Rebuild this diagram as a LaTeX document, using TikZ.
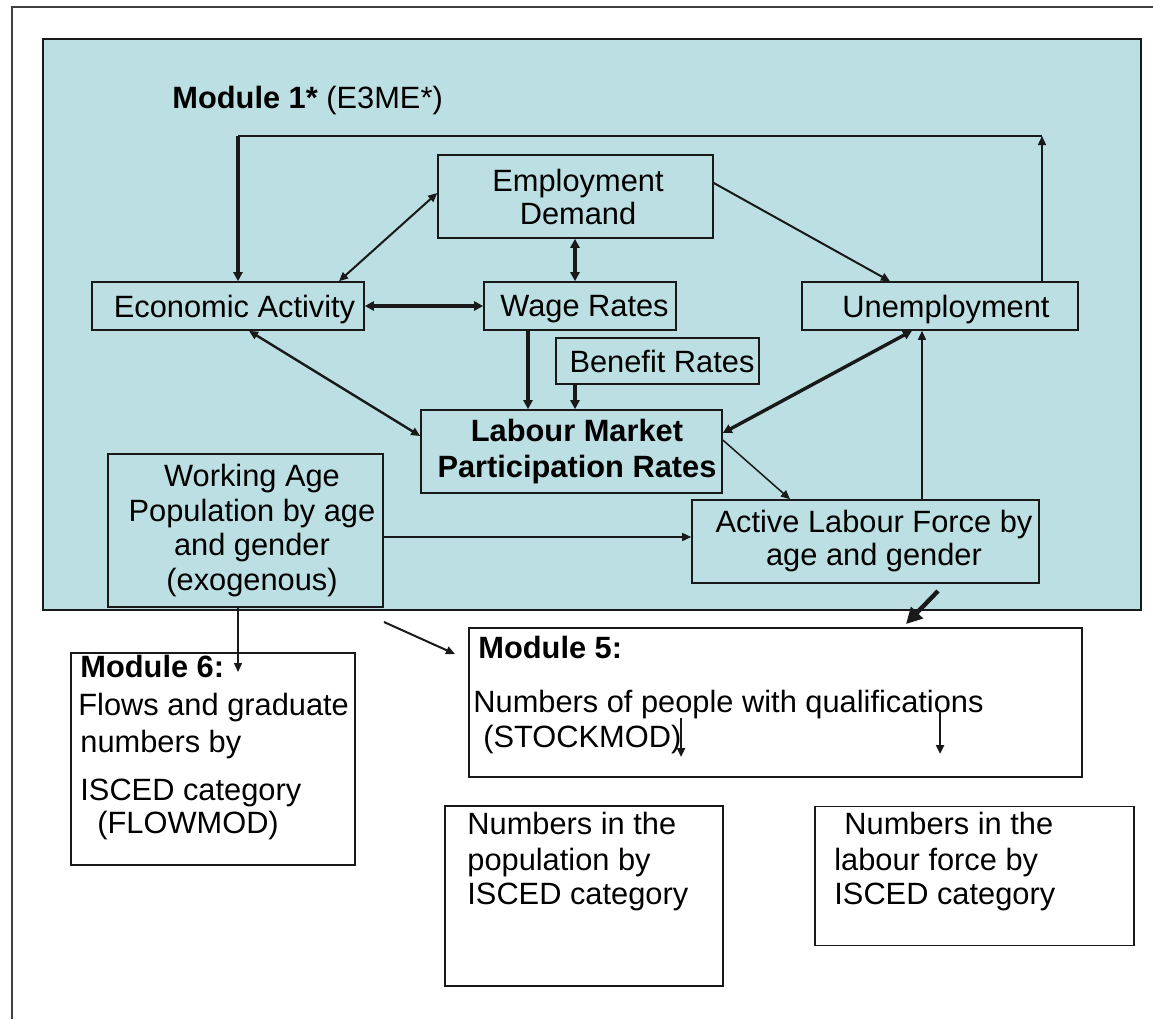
\documentclass[tikz,border=0pt]{standalone}
\usepackage{fontspec}
\setmainfont{Liberation Sans}
\usetikzlibrary{arrows.meta}
\definecolor{teal1}{RGB}{187,223,226}
\definecolor{ink}{RGB}{25,25,25}
\begin{document}
\begin{tikzpicture}[x=0.5pt,y=-0.5pt,
  font=\fontsize{15.4}{17}\selectfont,
  bx/.style 2 args={draw=ink, line width=0.8pt, rectangle, inner sep=1pt,
    minimum width=#1*0.5pt, minimum height=#2*0.5pt, align=center},
  one/.style={text depth=0pt},
  txt/.style={anchor=base west, inner sep=0pt},
  ln/.style={draw=ink, line cap=butt},
  a1/.style={ln, line width=0.75pt, -{Triangle[length=4.5pt,width=4pt]}},
  a1w/.style={ln, line width=1pt, -{Triangle[length=4.5pt,width=4pt]}},
  a2/.style={ln, line width=1.3pt, -{Triangle[length=4.5pt,width=4pt]}},
  a3/.style={ln, line width=1.6pt, -{Triangle[length=4.5pt,width=4.5pt]}},
  d1/.style={ln, line width=1pt, {Triangle[length=4.5pt,width=4pt]}-{Triangle[length=4.5pt,width=4pt]}},
  d2/.style={ln, line width=1.2pt, {Triangle[length=4.5pt,width=4pt]}-{Triangle[length=4.5pt,width=4pt]}},
  d3/.style={ln, line width=1.7pt, {Triangle[length=4.5pt,width=4.5pt]}-{Triangle[length=4.5pt,width=4.5pt]}},
  bigarr/.style={ln, line width=2.2pt, -{Triangle[length=8pt,width=8pt]}}
]
\useasboundingbox (0,0) rectangle (1153,1019);
% outer frame (clipped at right and bottom)
\draw[line width=1pt, draw=black!75] (12,1019) -- (12,7) -- (1153,7);
% module 1 background
\node[draw=ink, line width=0.9pt, fill=teal1, inner sep=0pt,
  minimum width=549pt, minimum height=285.5pt] (mod1) at (592,324.5) {};
\node[txt] (m1t) at (172,108) {\textbf{Module 1*} (E3ME*)};

% boxes of module 1
\node[bx={275}{83}, font=\fontsize{15.4}{16.5}\selectfont] (ed) at (575.5,196.5)
  {\hspace*{2.5pt}Employment\\\hspace*{2.5pt}Demand};
\node[bx={272}{48}, one] (ea) at (228,306) {\hspace*{6.5pt}Economic Activity};
\node[bx={192}{48}, one] (wr) at (580,306) {\hspace*{4.5pt}Wage Rates};
\node[bx={276}{48}, one] (un) at (940,306) {\hspace*{6pt}Unemployment};
\node[bx={203}{46}, one] (br) at (657.5,361) {\hspace*{4.5pt}Benefit Rates};
\node[bx={301}{83}, font=\fontsize{15.4}{18}\selectfont\bfseries] (lm) at (571.5,451.5)
  {\hspace*{5.5pt}Labour Market\\\hspace*{5.5pt}Participation Rates};
\node[bx={275}{153}, font=\fontsize{15.4}{17.2}\selectfont] (wa) at (245.5,530.5)
  {\hspace*{6.5pt}Working Age\\\hspace*{6.5pt}Population by age\\\hspace*{6.5pt}and gender\\\hspace*{6.5pt}(exogenous)};
\node[bx={347}{83}, font=\fontsize{15.4}{16.5}\selectfont] (al) at (865.5,541.5)
  {\hspace*{8.5pt}Active Labour Force by\\\hspace*{8.5pt}age and gender};

% lower boxes
\node[bx={284}{212}, fill=white] (m6) at (213,759) {};
\node[bx={613}{149}, fill=white] (m5) at (775.5,702.5) {};
\node[bx={278}{180}, fill=white] (np) at (584,896) {};
\node[bx={319}{139}, fill=white] (nl) at (974.5,876) {};

% texts of lower boxes
\node[txt] (m6a) at (80,677) {\textbf{Module 6:}};
\node[txt] (m6b) at (78,715) {Flows and graduate};
\node[txt] (m6c) at (80,752) {numbers by};
\node[txt] (m6d) at (80,800) {ISCED category};
\node[txt] (m6e) at (97,833) {(FLOWMOD)};
\node[txt] (m5a) at (478,658) {\textbf{Module 5:}};
\node[txt] (m5b) at (473,712) {Numbers of people with qualifications};
\node[txt] (m5c) at (483,747) {(STOCKMOD)};
\node[txt] (npa) at (467,834) {Numbers in the};
\node[txt] (npb) at (467,870) {population by};
\node[txt] (npc) at (467,904) {ISCED category};
\node[txt] (nla) at (844,834) {Numbers in the};
\node[txt] (nlb) at (834,870) {labour force by};
\node[txt] (nlc) at (834,904) {ISCED category};

% connectors
\coordinate (tr) at (1042,136);
\coordinate (tl) at (238,136);
\draw[a1] (un.north -| tr) -- (tr);
\draw[ln, line width=1pt] (tr) -- (tl);
\draw[a3] (tl) -- (ea.north -| tl);
\draw[d1] (ea.north -| 339,0) -- (ed.west |- 0,193);
\draw[d3] (ea.east) -- (wr.west);
\draw[d3] (ed.south -| 575,0) -- (wr.north -| 575,0);
\draw[a1w] (ed.east |- 0,183) -- (un.north -| 890,0);
\draw[d2] (ea.south -| 249,0) -- (lm.west |- 0,436);
\draw[a3] (wr.south -| 528,0) -- (lm.north -| 528,0);
\draw[a3] (br.south -| 575,0) -- (lm.north -| 575,0);
\draw[d3] (un.south -| 912,0) -- (lm.east |- 0,433);
\draw[a1] (lm.east |- 0,440) -- (al.north -| 790,0);
\draw[a1] (wa.east |- 0,537) -- (al.west |- 0,537);
\draw[a1] (al.north -| 922,0) -- (un.south -| 922,0);
\coordinate (f1) at (938,591);
\coordinate (f2) at (906,624);
\draw[bigarr] (f1) -- (f2);
\coordinate (w6) at (238,672);
\draw[a1] (wa.south -| w6) -- (w6);
\coordinate (s1) at (384,622);
\coordinate (s2) at (455,654);
\draw[a1w] (s1) -- (s2);
\coordinate (q1) at (681,718);
\coordinate (q2) at (681,757);
\coordinate (q3) at (940,712);
\coordinate (q4) at (940,754);
\draw[a2] (q1) -- (q2);
\draw[a2] (q3) -- (q4);
\end{tikzpicture}
\end{document}
